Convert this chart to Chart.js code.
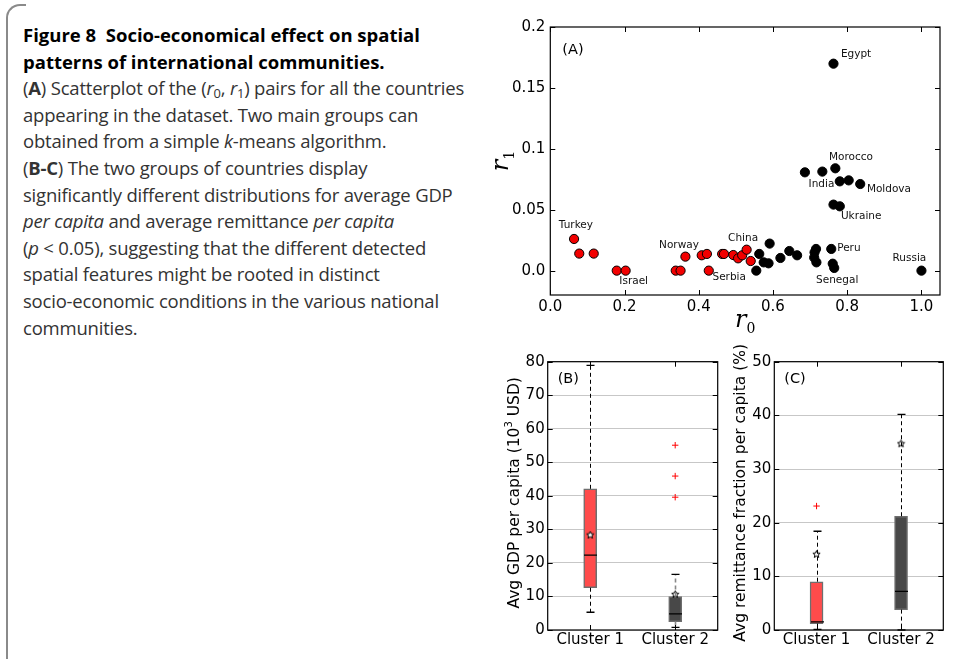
<!DOCTYPE html>
<html>
<head>
<meta charset="utf-8">
<script src="https://cdn.jsdelivr.net/npm/chart.js@4.4.0/dist/chart.umd.min.js"></script>
<style>
  body { margin: 0; background: #fff; width: 954px; height: 659px; overflow: hidden; position: relative; }
  .frame { position: absolute; left: 6px; top: 4px; width: 18px; height: 700px;
           border-left: 2px solid #8a8a8a; border-top: 2px solid #8a8a8a; border-top-left-radius: 14px; }
  .caption { position: absolute; left: 23px; top: 22px; font-family: "Open Sans", sans-serif;
             font-size: 18.5px; color: #333; letter-spacing: -0.2px; white-space: nowrap; }
  .caption div { height: 26.6px; line-height: 26.6px; }
  .caption .t { color: #000; font-weight: bold; letter-spacing: 0; }
  .caption sub { font-size: 70%; vertical-align: -0.2em; line-height: 0; }
  .panel { position: absolute; }
</style>
</head>
<body>
<div class="frame"></div>
<div class="caption">
  <div class="t">Figure 8&nbsp; Socio-economical effect on spatial</div>
  <div class="t">patterns of international communities.</div>
  <div>(<b>A</b>) Scatterplot of the (<i>r</i><sub>0</sub>, <i>r</i><sub>1</sub>) pairs for all the countries</div>
  <div>appearing in the dataset. Two main groups can</div>
  <div>obtained from a simple <i>k</i>-means algorithm.</div>
  <div>(<b>B-C</b>) The two groups of countries display</div>
  <div>significantly different distributions for average GDP</div>
  <div><i>per capita</i> and average remittance <i>per capita</i></div>
  <div>(<i>p</i> &lt; 0.05), suggesting that the different detected</div>
  <div>spatial features might be rooted in distinct</div>
  <div>socio-economic conditions in the various national</div>
  <div>communities.</div>
</div>

<div class="panel" style="left:490px;top:0px;width:464px;height:345px"><canvas id="chartA"></canvas></div>
<div class="panel" style="left:490px;top:345px;width:240px;height:314px"><canvas id="chartB"></canvas></div>
<div class="panel" style="left:730px;top:345px;width:224px;height:314px"><canvas id="chartC"></canvas></div>

<script>
// ---- panel A: (r0, r1) per country, two k-means clusters ----
const redR0 = [0.064, 0.078, 0.117, 0.179, 0.203, 0.338, 0.351, 0.364, 0.408, 0.422, 0.427, 0.463, 0.468, 0.493, 0.506, 0.517, 0.529, 0.540];
const redR1 = [0.026, 0.014, 0.014, 0.000, 0.000, 0.000, 0.000, 0.0115, 0.0126, 0.0137, 0.000, 0.0137, 0.0137, 0.0128, 0.0101, 0.0126, 0.0172, 0.0079];
const blackR0 = [0.555, 0.563, 0.575, 0.588, 0.591, 0.620, 0.644, 0.665, 0.686, 0.711, 0.712, 0.716, 0.717, 0.733, 0.757, 0.761, 0.763, 0.763, 0.765, 0.768, 0.780, 0.780, 0.804, 0.835, 1.000];
const blackR1 = [0.000, 0.0137, 0.0068, 0.0060, 0.0222, 0.0104, 0.0161, 0.0126, 0.0807, 0.0107, 0.0150, 0.0178, 0.0068, 0.0813, 0.0178, 0.0057, 0.1699, 0.0542, 0.0022, 0.0840, 0.0733, 0.0528, 0.0741, 0.0711, 0.000];

const countryNames = ["Egypt", "Morocco", "India", "Moldova", "Ukraine", "Turkey", "Norway", "China", "Peru", "Russia", "Israel", "Serbia", "Senegal"];
const labelR0 = [0.783, 0.751, 0.696, 0.853, 0.783, 0.023, 0.293, 0.479, 0.773, 0.922, 0.186, 0.437, 0.716];
const labelR1 = [0.1773, 0.0928, 0.0711, 0.0670, 0.0448, 0.0369, 0.0208, 0.0265, 0.0181, 0.0099, -0.0088, -0.0055, -0.0080];

const r0Ticks = [0, 0.2, 0.4, 0.6, 0.8, 1.0];
const r0TickLabels = ["0.0", "0.2", "0.4", "0.6", "0.8", "1.0"];
const r1Ticks = [0, 0.05, 0.1, 0.15, 0.2];
const r1TickLabels = ["0.0", "0.05", "0.1", "0.15", "0.2"];

// ---- panels B and C: box plots per cluster ----
const clusters = ["Cluster 1", "Cluster 2"];

const gdpQ1 = [12.6, 2.5];
const gdpMedian = [22.3, 4.8];
const gdpQ3 = [42.1, 10.0];
const gdpLow = [5.3, 0.8];
const gdpHigh = [78.9, 16.6];
const gdpMean = [28.3, 10.6];
const gdpOutliers = [[], [39.6, 45.9, 55.1]];
const gdpTicks = [0, 10, 20, 30, 40, 50, 60, 70, 80];

const remQ1 = [1.2, 3.8];
const remMedian = [1.5, 7.2];
const remQ3 = [9.0, 21.2];
const remLow = [0.1, 0.0];
const remHigh = [18.4, 40.2];
const remMean = [14.1, 34.7];
const remOutliers = [[23.1], []];
const remTicks = [0, 10, 20, 30, 40, 50];

const SANS = '"DejaVu Sans", sans-serif';
const boxColors = ['#ff4b4b', '#484848'];

function starImage() {
    const c = document.createElement('canvas');
    c.width = 9; c.height = 9;
    const g = c.getContext('2d');
    g.beginPath();
    for (let i = 0; i < 10; i++) {
        const r = i % 2 ? 1.7 : 3.8;
        const a = -Math.PI / 2 + i * Math.PI / 5;
        g.lineTo(4.5 + r * Math.cos(a), 4.5 + r * Math.sin(a));
    }
    g.closePath();
    g.fillStyle = '#fff';
    g.fill();
    g.strokeStyle = '#000';
    g.lineWidth = 1;
    g.stroke();
    return c;
}

// frame round the plot area with inward tick marks on all sides
const framePlugin = {
    id: 'frame',
    afterDraw(chart) {
        const ctx = chart.ctx, a = chart.chartArea;
        const xs = chart.scales.x, ys = chart.scales.y;
        ctx.save();
        ctx.strokeStyle = '#000';
        ctx.lineWidth = 1;
        ctx.beginPath();
        xs.ticks.forEach((t, i) => {
            const px = Math.round(xs.getPixelForTick(i)) + 0.5;
            ctx.moveTo(px, a.bottom); ctx.lineTo(px, a.bottom - 5);
            ctx.moveTo(px, a.top); ctx.lineTo(px, a.top + 5);
        });
        ys.ticks.forEach((t, i) => {
            const py = Math.round(ys.getPixelForTick(i)) + 0.5;
            ctx.moveTo(a.left, py); ctx.lineTo(a.left + 5, py);
            ctx.moveTo(a.right, py); ctx.lineTo(a.right - 5, py);
        });
        ctx.stroke();
        ctx.lineWidth = 1.2;
        ctx.strokeRect(a.left, a.top, a.right - a.left, a.bottom - a.top);
        ctx.restore();
    }
};

function drawPanelLetter(chart, text, x, y) {
    const ctx = chart.ctx;
    ctx.save();
    ctx.font = '14.5px ' + SANS;
    ctx.fillStyle = '#000';
    ctx.textBaseline = 'middle';
    ctx.fillText(text, x, y);
    ctx.restore();
}

// r with a subscript, serif maths style
function drawR(ctx, sub, x, y, rotate) {
    ctx.save();
    ctx.translate(x, y);
    if (rotate) ctx.rotate(-Math.PI / 2);
    ctx.font = 'italic 24px "DejaVu Serif", serif';
    const w1 = ctx.measureText('r').width;
    ctx.font = '14px "DejaVu Serif", serif';
    const w2 = ctx.measureText(sub).width;
    const x0 = -(w1 + w2) / 2;
    ctx.fillStyle = '#000';
    ctx.textBaseline = 'alphabetic';
    ctx.font = 'italic 24px "DejaVu Serif", serif';
    ctx.fillText('r', x0, 0);
    ctx.font = '14px "DejaVu Serif", serif';
    ctx.fillText(sub, x0 + w1, 6);
    ctx.restore();
}

const scatterDecor = {
    id: 'scatterDecor',
    afterDraw(chart) {
        const ctx = chart.ctx, xs = chart.scales.x, ys = chart.scales.y;
        ctx.save();
        ctx.font = '10.5px ' + SANS;
        ctx.fillStyle = '#111';
        ctx.textBaseline = 'middle';
        countryNames.forEach((name, i) => {
            ctx.fillText(name, xs.getPixelForValue(labelR0[i]), ys.getPixelForValue(labelR1[i]));
        });
        ctx.restore();
        drawPanelLetter(chart, '(A)', chart.chartArea.left + 12, chart.chartArea.top + 23);
        drawR(ctx, '0', (chart.chartArea.left + chart.chartArea.right) / 2, 327, false);
        drawR(ctx, '1', 18, (chart.chartArea.top + chart.chartArea.bottom) / 2, true);
    }
};

new Chart(document.getElementById('chartA'), {
    type: 'scatter',
    data: {
        datasets: [
            {
                data: redR0.map((v, i) => ({ x: v, y: redR1[i] })),
                backgroundColor: '#f20000',
                borderColor: '#000',
                borderWidth: 1,
                pointRadius: 4.6
            },
            {
                data: blackR0.map((v, i) => ({ x: v, y: blackR1[i] })),
                backgroundColor: '#000',
                borderColor: '#000',
                borderWidth: 1,
                pointRadius: 4.6
            }
        ]
    },
    options: {
        responsive: true,
        maintainAspectRatio: false,
        animation: false,
        layout: { padding: { top: 27, right: 14, left: 0, bottom: 0 } },
        plugins: { legend: { display: false }, tooltip: { enabled: false } },
        scales: {
            x: {
                type: 'linear', min: 0, max: 1.05,
                afterBuildTicks: s => { s.ticks = r0Ticks.map(v => ({ value: v })); },
                afterFit: s => { s.height = 50; },
                grid: { display: false, drawTicks: false },
                border: { display: false },
                ticks: { padding: 3, color: '#000', font: { family: SANS, size: 15 }, maxRotation: 0,
                         callback: (v, i) => r0TickLabels[i] }
            },
            y: {
                type: 'linear', min: -0.02, max: 0.2,
                afterBuildTicks: s => { s.ticks = r1Ticks.map(v => ({ value: v })); },
                afterFit: s => { s.width = 60.3; },
                grid: { display: false, drawTicks: false },
                border: { display: false },
                ticks: { padding: 5, color: '#000', font: { family: SANS, size: 15 },
                         callback: (v, i) => r1TickLabels[i] }
            }
        }
    },
    plugins: [framePlugin, scatterDecor]
});

// whiskers, caps, medians and axis title for a box panel
function boxDecor(q1, med, q3, lo, hi, whiskerColors, letter, titleParts) {
    return {
        id: 'boxDecor',
        afterDatasetsDraw(chart) {
            const ctx = chart.ctx, xs = chart.scales.x, ys = chart.scales.y;
            ctx.save();
            clusters.forEach((c, i) => {
                const px = Math.round(xs.getPixelForValue(i)) + 0.5;
                ctx.strokeStyle = whiskerColors[i];
                ctx.lineWidth = i === 1 && whiskerColors[i] !== '#000' ? 1.6 : 1;
                ctx.setLineDash([4, 3]);
                ctx.beginPath();
                ctx.moveTo(px, ys.getPixelForValue(q3[i])); ctx.lineTo(px, ys.getPixelForValue(hi[i]));
                ctx.moveTo(px, ys.getPixelForValue(q1[i])); ctx.lineTo(px, ys.getPixelForValue(lo[i]));
                ctx.stroke();
                ctx.setLineDash([]);
                ctx.strokeStyle = '#000';
                ctx.lineWidth = 1.3;
                ctx.beginPath();
                [hi[i], lo[i]].forEach(v => {
                    const py = ys.getPixelForValue(v);
                    ctx.moveTo(px - 4, py); ctx.lineTo(px + 4, py);
                });
                const pm = ys.getPixelForValue(med[i]);
                ctx.moveTo(px - 6.5, pm); ctx.lineTo(px + 6.5, pm);
                ctx.stroke();
            });
            ctx.restore();
        },
        afterDraw(chart) {
            const ctx = chart.ctx, a = chart.chartArea;
            drawPanelLetter(chart, letter, a.left + 10, a.top + 17.5);
            ctx.save();
            ctx.translate(a.left - 33, (a.top + a.bottom) / 2 - 3);
            ctx.rotate(-Math.PI / 2);
            ctx.fillStyle = '#000';
            ctx.textBaseline = 'middle';
            const big = '15.5px ' + SANS, small = '10px ' + SANS;
            let total = 0;
            titleParts.forEach(p => { ctx.font = p.sup ? small : big; total += ctx.measureText(p.text).width; });
            let x = -total / 2;
            titleParts.forEach(p => {
                ctx.font = p.sup ? small : big;
                ctx.fillText(p.text, x, p.sup ? -5 : 0);
                x += ctx.measureText(p.text).width;
            });
            ctx.restore();
        }
    };
}

function boxChart(id, q1, med, q3, lo, hi, mean, outliers, ticks, yMax, yAxisWidth, rightPad, whiskerColors, letter, titleParts) {
    const outlierPoints = [];
    outliers.forEach((list, i) => list.forEach(v => outlierPoints.push({ x: clusters[i], y: v })));
    const deco = boxDecor(q1, med, q3, lo, hi, whiskerColors, letter, titleParts);
    return new Chart(document.getElementById(id), {
        type: 'bar',
        data: {
            labels: clusters,
            datasets: [
                {
                    type: 'bar',
                    data: q1.map((v, i) => [v, q3[i]]),
                    backgroundColor: boxColors,
                    borderColor: '#6e6e6e',
                    borderWidth: 1.5,
                    borderSkipped: false,
                    barThickness: 13,
                    order: 3
                },
                {
                    type: 'line',
                    data: mean.map((v, i) => ({ x: clusters[i], y: v })),
                    showLine: false,
                    pointStyle: starImage(),
                    order: 1
                },
                {
                    type: 'line',
                    data: outlierPoints,
                    showLine: false,
                    pointStyle: 'cross',
                    pointRadius: 3.2,
                    borderColor: '#ff0000',
                    borderWidth: 1,
                    order: 2
                }
            ]
        },
        options: {
            responsive: true,
            maintainAspectRatio: false,
            animation: false,
            layout: { padding: { top: 16.7, right: rightPad, left: 0, bottom: 0 } },
            plugins: { legend: { display: false }, tooltip: { enabled: false } },
            scales: {
                x: {
                    type: 'category', offset: true,
                    afterFit: s => { s.height = 29; },
                    grid: { display: false, drawTicks: false },
                    border: { display: false },
                    ticks: { padding: 1, color: '#000', font: { family: SANS, size: 15 }, maxRotation: 0 }
                },
                y: {
                    type: 'linear', min: 0, max: yMax,
                    afterBuildTicks: s => { s.ticks = ticks.map(v => ({ value: v })); },
                    afterFit: s => { s.width = yAxisWidth; },
                    grid: { color: 'rgba(0,0,0,0.22)', lineWidth: 1, drawTicks: false },
                    border: { display: false },
                    ticks: { padding: 3, color: '#000', font: { family: SANS, size: 15 } }
                }
            }
        },
        plugins: [framePlugin, deco]
    });
}

boxChart('chartB', gdpQ1, gdpMedian, gdpQ3, gdpLow, gdpHigh, gdpMean, gdpOutliers, gdpTicks, 80,
         57.7, 12.3, ['#000', '#888'], '(B)',
         [{ text: 'Avg GDP per capita (10' }, { text: '3', sup: true }, { text: ' USD)' }]);

boxChart('chartC', remQ1, remMedian, remQ3, remLow, remHigh, remMean, remOutliers, remTicks, 50,
         44.3, 10.7, ['#000', '#000'], '(C)',
         [{ text: 'Avg remittance fraction per capita (%)' }]);
</script>
</body>
</html>
